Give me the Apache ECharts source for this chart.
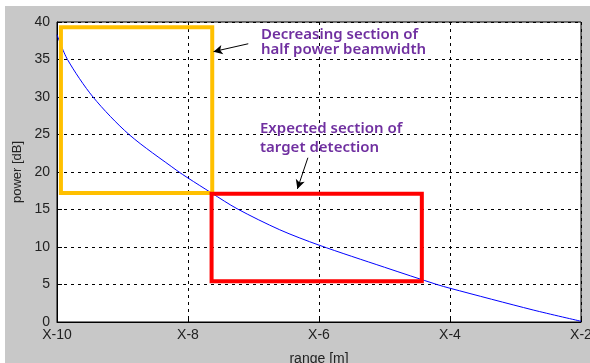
<!DOCTYPE html>
<html>
<head>
<meta charset="utf-8">
<script src="https://cdn.jsdelivr.net/npm/echarts@6/dist/echarts.min.js"></script>
<style>html,body{margin:0;padding:0;background:#fff}#c{width:590px;height:363px}</style>
</head>
<body>
<div id="c"></div>
<script>
// Curve: range (x) vs power [dB]
const curveX = [-10, -9.84, -9.45, -8.9, -8.17, -8, -7.64, -7.25, -6.6, -6, -5, -4.2, -4, -2.73, -2];
const curveY = [38.3, 35, 30, 25, 20.2, 19.2, 17.2, 15.1, 12.3, 10.25, 7.3, 5, 4.5, 1.6, 0.1];
// Boxes: [xMin, xMax, yMin, yMax]
const orangeBox = [-9.94, -7.63, 17.2, 39.3];
const redBox = [-7.64, -4.43, 5.45, 17.1];
// Arrows: [tailX, tailY, headX, headY]
const arrow1 = [-7.08, 37.1, -7.61, 36.05];
const arrow2 = [-6.17, 21.9, -6.33, 17.75];
// Ticks
const xTicks = { min: -10, max: -2, step: 2 };
const yTicks = { min: 0, max: 40, step: 5 };
const note1 = ['Decreasing section of', 'half power beamwidth'];
const note2 = ['Expected section of', 'target detection'];

function boxPts(b) {
  return [[b[0], b[3]], [b[1], b[3]], [b[1], b[2]], [b[0], b[2]], [b[0], b[3]]];
}
const chart = echarts.init(document.getElementById('c'), null, {renderer: 'canvas'});
const font = 'Liberation Sans, Arial, sans-serif';
const noteStyle = (t, x, y) => ({
  type: 'text', left: x, top: y, z: 100,
  style: { text: t, fill: '#7030a0', font: '600 15px "Noto Sans", sans-serif' }
});
chart.setOption({
  animation: false,
  backgroundColor: '#c8c8c8',
  grid: { left: 57, right: 9, top: 22, bottom: 41, show: true, backgroundColor: '#fff', borderColor: '#000', borderWidth: 1, containLabel: false, outerBoundsMode: 'none' },
  xAxis: {
    type: 'value', min: xTicks.min, max: xTicks.max, interval: xTicks.step,
    name: 'range [m]', nameLocation: 'middle', nameGap: 30,
    nameTextStyle: { fontFamily: font, fontSize: 14, color: '#222' },
    axisLine: { lineStyle: { color: '#000', width: 1 } },
    axisTick: { inside: true, length: 5, lineStyle: { color: '#000' } },
    axisLabel: { formatter: v => 'X' + v, fontFamily: font, fontSize: 14, color: '#222', margin: 6 },
    splitLine: { show: true, lineStyle: { color: '#000', type: [3, 4], width: 1 } }
  },
  yAxis: {
    type: 'value', min: yTicks.min, max: yTicks.max, interval: yTicks.step,
    name: 'power [dB]', nameLocation: 'middle', nameGap: 32,
    nameTextStyle: { fontFamily: font, fontSize: 13, color: '#222' },
    axisLine: { show: true, lineStyle: { color: '#000', width: 1 } },
    axisTick: { show: true, inside: true, length: 5, lineStyle: { color: '#000' } },
    axisLabel: { fontFamily: font, fontSize: 14, color: '#222', margin: 7 },
    splitLine: { show: true, lineStyle: { color: '#000', type: [3, 4], width: 1 } }
  },
  graphic: [
    { type: 'rect', shape: { x: 0, y: 0, width: 590, height: 6 }, style: { fill: '#fff' } },
    { type: 'rect', shape: { x: 0, y: 0, width: 5, height: 363 }, style: { fill: '#fff' } },
    noteStyle(note1[0], 261, 27),
    noteStyle(note1[1], 261, 42),
    noteStyle(note2[0], 260, 121),
    noteStyle(note2[1], 260, 140)
  ],
  series: [
    {
      type: 'line', data: curveX.map((x, i) => [x, curveY[i]]), showSymbol: false, symbol: 'none',
      smooth: 0.3,
      lineStyle: { color: '#0000ff', width: 1 }, z: 3
    },
    {
      type: 'line', data: boxPts(orangeBox), symbol: 'none',
      lineStyle: { color: '#ffc000', width: 4, join: 'miter', cap: 'square' }, z: 4
    },
    {
      type: 'line', data: boxPts(redBox), symbol: 'none',
      lineStyle: { color: '#ff0000', width: 4, join: 'miter', cap: 'square' }, z: 5,
      markLine: {
        silent: true, symbol: ['none', 'arrow'], symbolSize: [7, 9], label: { show: false },
        lineStyle: { color: '#000', type: 'solid', width: 1 },
        data: [
          [{ coord: [arrow1[0], arrow1[1]] }, { coord: [arrow1[2], arrow1[3]] }],
          [{ coord: [arrow2[0], arrow2[1]] }, { coord: [arrow2[2], arrow2[3]] }]
        ]
      }
    }
  ]
});
</script>
</body>
</html>
